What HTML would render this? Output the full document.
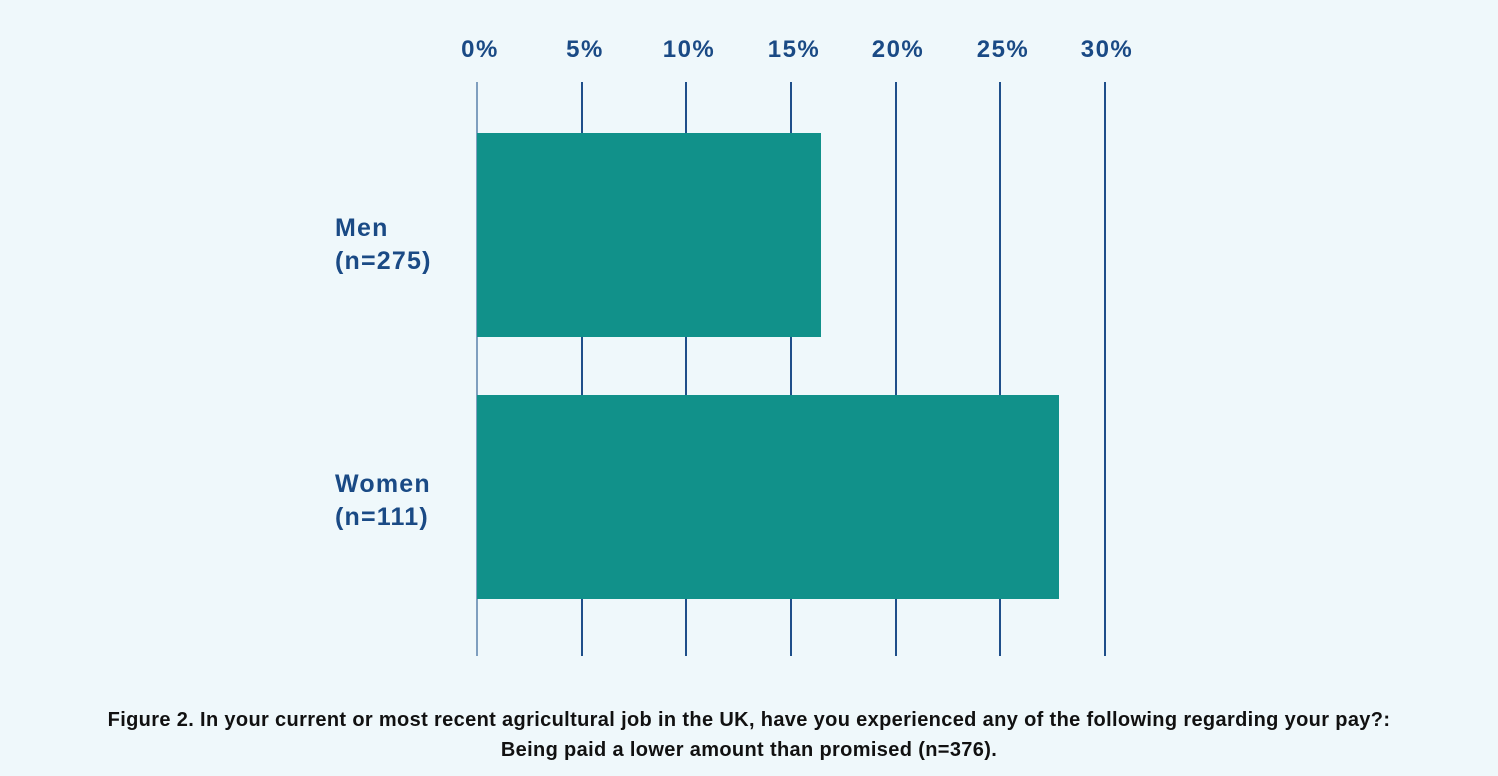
<!DOCTYPE html>
<html><head><style>
body{margin:0;width:1498px;height:776px;background:#eff8fb;font-family:"Liberation Sans",sans-serif;position:relative;overflow:hidden}
.t{position:absolute;top:36px;font-size:24px;font-weight:bold;color:#1a4a85;transform:translateX(-50%);letter-spacing:1.5px}
.g{position:absolute;top:82px;height:574px;width:1.5px;background:#1f4f8a}
.b{position:absolute;left:477px;background:#11918a;height:204px}
.l{position:absolute;left:335px;font-size:25px;font-weight:bold;color:#1a4a85;line-height:33px;letter-spacing:1.2px}
.c{position:absolute;left:0;width:1498px;text-align:center;font-size:20px;font-weight:bold;color:#111;line-height:30px;top:705px;letter-spacing:0.35px;white-space:nowrap}
</style></head><body>
<div class="t" style="left:480px">0%</div>
<div class="t" style="left:585px">5%</div>
<div class="t" style="left:689px">10%</div>
<div class="t" style="left:794px">15%</div>
<div class="t" style="left:898px">20%</div>
<div class="t" style="left:1003px">25%</div>
<div class="t" style="left:1107px">30%</div>
<div class="g" style="left:476px;background:#7f9fbf"></div>
<div class="g" style="left:581px"></div>
<div class="g" style="left:685px"></div>
<div class="g" style="left:790px"></div>
<div class="g" style="left:895px"></div>
<div class="g" style="left:999px"></div>
<div class="g" style="left:1104px"></div>
<div class="b" style="top:133px;width:344px"></div>
<div class="b" style="top:395px;width:582px"></div>
<div class="l" style="top:212px">Men<br>(n=275)</div>
<div class="l" style="top:468px">Women<br>(n=111)</div>
<div class="c">Figure 2. In your current or most recent agricultural job in the UK, have you experienced any of the following regarding your pay?:<br>Being paid a lower amount than promised (n=376).</div>
</body></html>
